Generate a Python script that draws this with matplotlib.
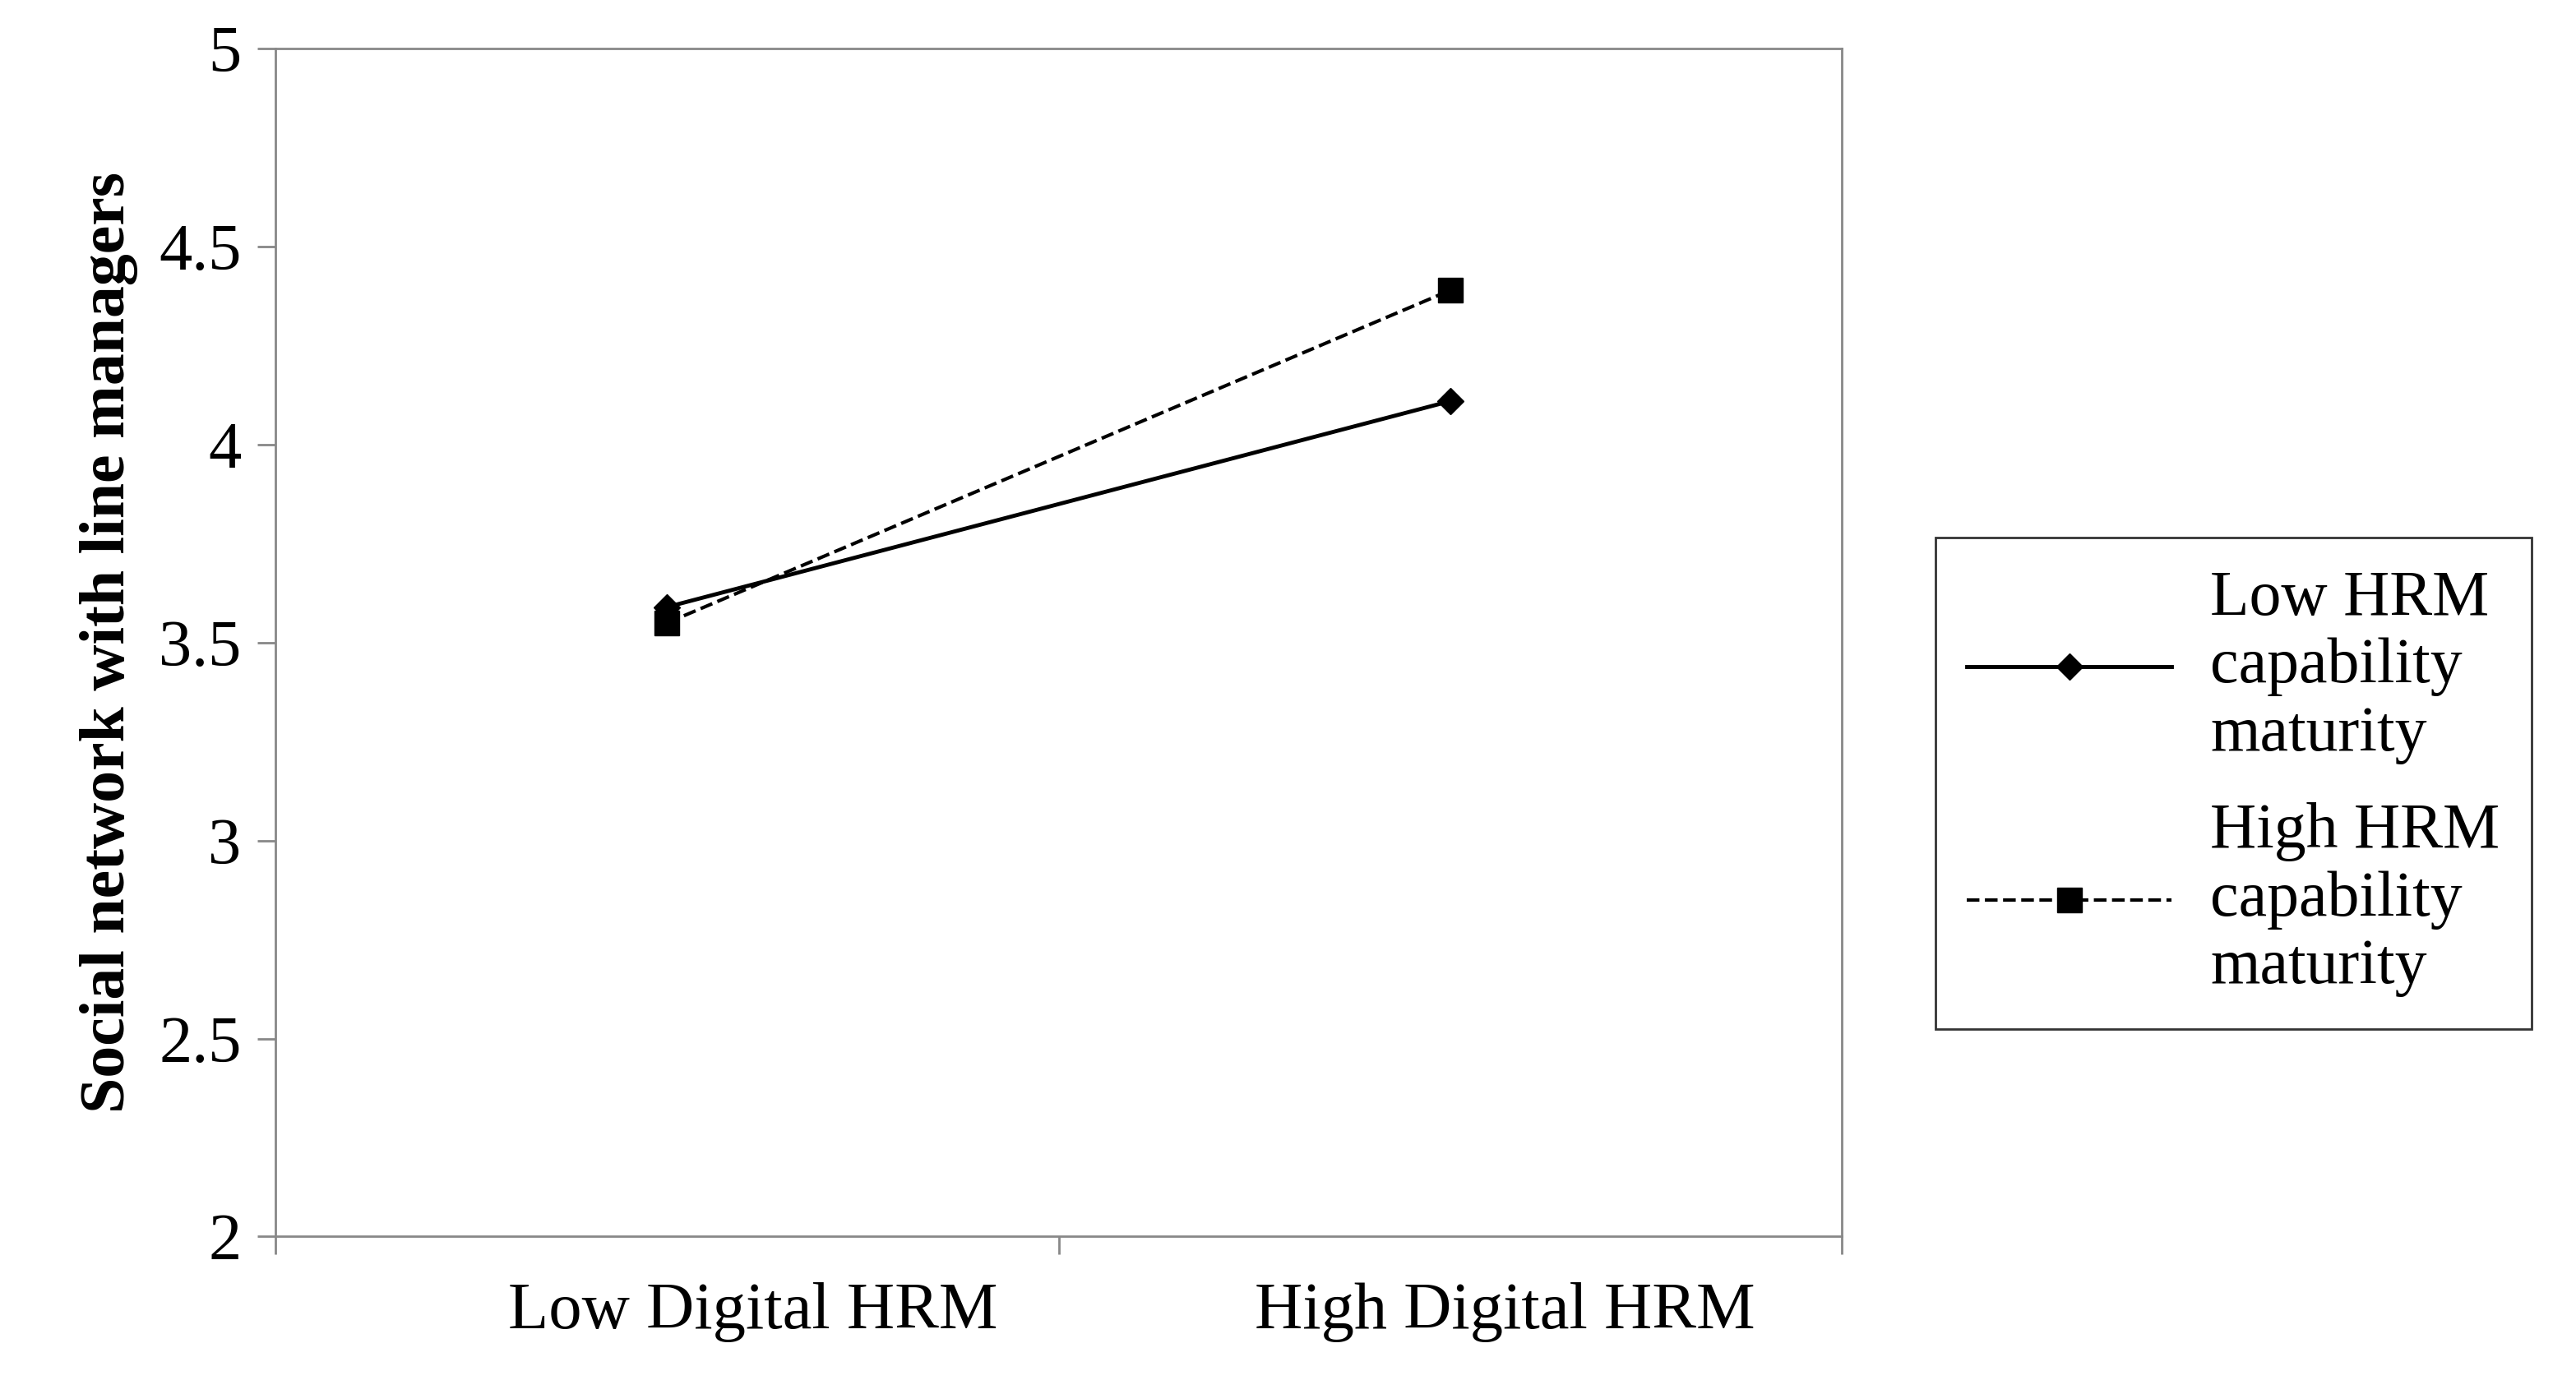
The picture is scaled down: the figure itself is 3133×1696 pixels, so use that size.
import matplotlib
matplotlib.use("Agg")
import matplotlib.pyplot as plt

categories = ["Low Digital HRM", "High Digital HRM"]
low_hrm = [3.59, 4.11]
high_hrm = [3.55, 4.39]
series_labels = ["Low HRM\ncapability\nmaturity", "High HRM\ncapability\nmaturity"]

plt.rcParams["font.family"] = ["Liberation Serif", "DejaVu Serif"]

fig = plt.figure(figsize=(31.33, 16.96), dpi=100)
ax = fig.add_axes([0.107, 0.113, 0.608, 0.852])
xs = [0.5, 1.5]
ax.plot(xs, low_hrm, "-", color="black", lw=3.5, marker="D", ms=16, label=series_labels[0])
ax.plot(xs, high_hrm, "--", color="black", lw=3, marker="s", ms=22, label=series_labels[1])

ax.set_xlim(0, 2)
ax.set_ylim(2, 5)
ax.set_yticks([2, 2.5, 3, 3.5, 4, 4.5, 5])
ax.set_yticklabels(["2", "2.5", "3", "3.5", "4", "4.5", "5"])
ax.set_xticks([0, 1, 2])
ax.set_xticklabels([])
# category labels in the reference sit slightly right of the data points
ax.set_xticks([0.61, 1.57], minor=True)
ax.set_xticklabels(categories, minor=True)
ax.tick_params(axis="x", which="minor", length=0, pad=40, labelsize=58)
ax.tick_params(axis="x", which="major", length=16, width=2, color="#888888")
ax.tick_params(axis="y", length=16, width=2, color="#888888", labelsize=58, pad=14)
for s in ax.spines.values():
    s.set_color("#888888")
    s.set_linewidth(2)
ax.set_ylabel("Social network with line managers", fontsize=56, fontweight="bold", labelpad=18)

leg = fig.legend(loc="center", bbox_to_anchor=(0.867, 0.438), fontsize=56, frameon=True,
                 fancybox=False, edgecolor="black", handlelength=3.2, labelspacing=0.6,
                 borderpad=0.5, handletextpad=0.6)
leg.get_frame().set_linewidth(2)

fig.savefig("out.png", dpi=100)
